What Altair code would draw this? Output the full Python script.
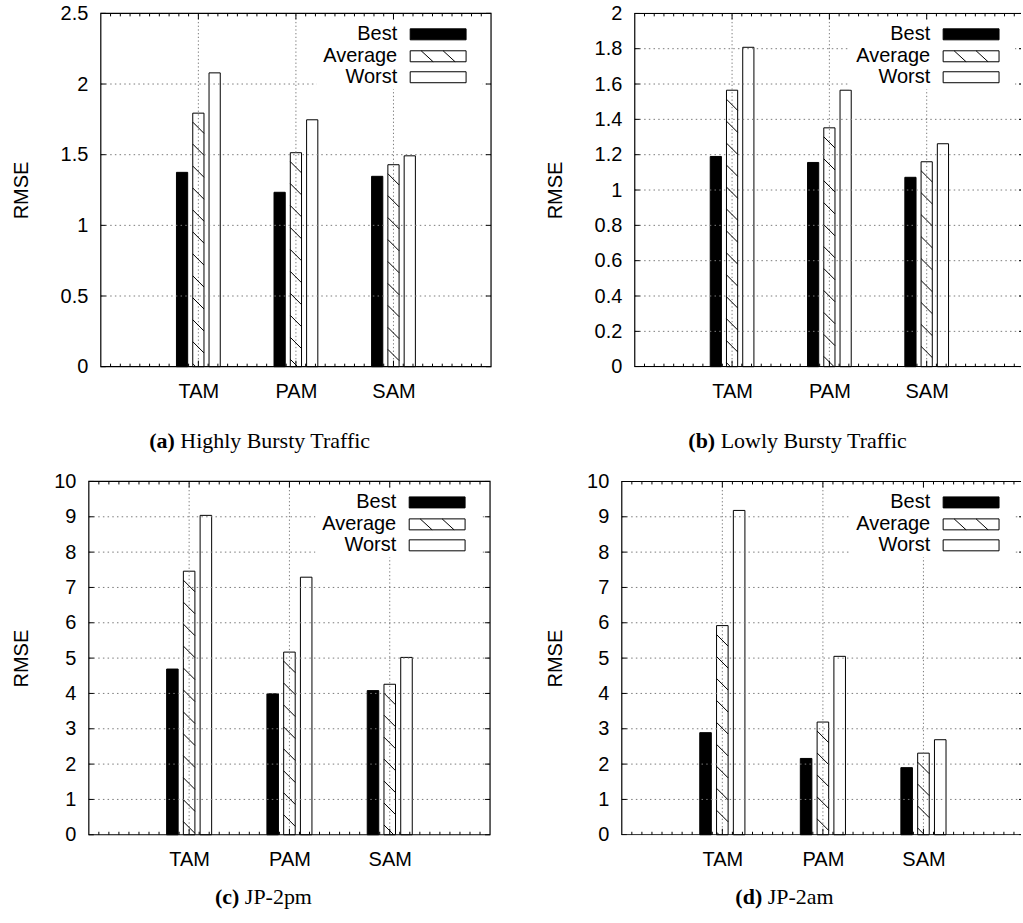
import json
import altair as alt
import pandas as pd
import numpy as np

# ---------------- data ----------------
categories = ["TAM", "PAM", "SAM"]
series = ["Best", "Average", "Worst"]

a_best = [1.375, 1.234, 1.347]
a_average = [1.794, 1.514, 1.429]
a_worst = [2.079, 1.747, 1.492]

b_best = [1.190, 1.156, 1.072]
b_average = [1.565, 1.352, 1.160]
b_worst = [1.808, 1.565, 1.262]

c_best = [4.69, 3.99, 4.08]
c_average = [7.46, 5.17, 4.26]
c_worst = [9.04, 7.29, 5.02]

d_best = [2.89, 2.16, 1.90]
d_average = [5.92, 3.19, 2.31]
d_worst = [9.18, 5.05, 2.69]

a_ticks = [0, 0.5, 1, 1.5, 2, 2.5]
b_ticks = [0, 0.2, 0.4, 0.6, 0.8, 1, 1.2, 1.4, 1.6, 1.8, 2]
cd_ticks = [0, 1, 2, 3, 4, 5, 6, 7, 8, 9, 10]

caption_tags = ["(a)", "(b)", "(c)", "(d)"]
caption_texts = ["Highly Bursty Traffic", "Lowly Bursty Traffic", "JP-2pm", "JP-2am"]

# ---------------- styling ----------------
SANS = "Liberation Sans, Arial, Helvetica, sans-serif"
SERIF = "Liberation Serif, Times New Roman, serif"
FS = 20
CAP_FS = 22
H = 355
YRANGE = [354.5, 0.5]
BAR_W = 0.115
OFFS = {"Best": -0.167, "Average": 0.0, "Worst": 0.167}
GRID = "#7a7a7a"

TIMES_REG = {'(': .333, ')': .333, ' ': .25, 'a': .444, 'b': .5, 'c': .444, 'd': .5,
             'H': .722, 'i': .278, 'g': .5, 'h': .5, 'l': .278, 'y': .5, 'B': .667,
             'u': .5, 'r': .333, 's': .389, 't': .278, 'T': .611, 'f': .333, 'L': .611,
             'o': .5, 'w': .722, 'J': .389, 'P': .556, '-': .333, '2': .5, 'p': .5, 'm': .778}
TIMES_BOLD = {'(': .333, ')': .333, ' ': .25, 'a': .5, 'b': .556, 'c': .444, 'd': .556}


def tw(s, table, fs):
    return sum(table.get(ch, .5) for ch in s) * fs


one = pd.DataFrame({"k": [0]})


def panel(best, avg, worst, ticks, xr, width, title_dx, cap_idx, cap_cx, cap_base, clip):
    ymax = ticks[-1]
    xs = alt.Scale(domain=[-1, 3], range=xr, nice=False, zero=False)
    ys = alt.Scale(domain=[0, ymax], range=YRANGE, nice=False, zero=False)
    ppx = (xr[1] - xr[0]) / 4.0
    ppy = (YRANGE[0] - YRANGE[1]) / ymax

    rows = []
    for i, cat in enumerate(categories):
        for s, vals in zip(series, [best, avg, worst]):
            cx = i + OFFS[s]
            rows.append(dict(cat=cat, series=s, value=vals[i],
                             xl=cx - BAR_W / 2, xr=cx + BAR_W / 2))
    bars_df = pd.DataFrame(rows)

    # hatch segments for Average bars ("\" at 45 degrees, 22 px period)
    drop = BAR_W * ppx / ppy
    step = 22.0 / ppy
    hrows = []
    for i in range(len(categories)):
        v = avg[i]
        x0 = i + OFFS["Average"] - BAR_W / 2
        x1 = i + OFFS["Average"] + BAR_W / 2
        y0 = v - 9.0 / ppy
        while y0 > 0:
            if y0 - drop >= 0:
                hrows.append(dict(x0=x0, x1=x1, y0=y0, y1=y0 - drop))
            else:
                hrows.append(dict(x0=x0, x1=x0 + (x1 - x0) * y0 / drop, y0=y0, y1=0))
            y0 -= step
    hatch_df = pd.DataFrame(hrows)

    label_expr = json.dumps(categories) + "[datum.value]"
    xaxis = alt.Axis(values=[0, 1, 2], labelExpr=label_expr, domain=False, ticks=False,
                     tickSize=0, grid=False, labelPadding=30.5, labelBaseline="alphabetic",
                     labelFont=SANS, labelFontSize=FS, labelColor="black", title=None,
                     labelFlush=False, labelOverlap=False)
    yaxis = alt.Axis(values=ticks, format="~r", domain=False, ticks=False, tickSize=0,
                     grid=False, labelPadding=13, offset=-xr[0], labelFont=SANS,
                     labelFontSize=FS, labelColor="black", labelOverlap=False,
                     labelFlush=False, title="RMSE", titleFont=SANS, titleFontSize=FS,
                     titleFontWeight="normal", titleColor="black", titleX=-title_dx,
                     titleY=H / 2, titleAngle=270, titleAlign="center",
                     titleBaseline="middle")

    X = lambda f: alt.X(f, scale=xs, axis=xaxis)
    Y = lambda f: alt.Y(f, scale=ys, axis=yaxis)
    XD = lambda d: alt.X(datum=d, type="quantitative", scale=xs, axis=xaxis)
    YD = lambda d: alt.Y(datum=d, type="quantitative", scale=ys, axis=yaxis)

    hgrid = alt.Chart(pd.DataFrame({"v": ticks[1:-1]})).mark_rule(
        stroke=GRID, strokeWidth=1, strokeDash=[1.5, 3.2], clip=clip).encode(
        x=XD(-1), x2=alt.X2(datum=3), y=Y("v:Q"))
    vgrid = alt.Chart(pd.DataFrame({"c": [0, 1, 2]})).mark_rule(
        stroke=GRID, strokeWidth=1, strokeDash=[1.3, 2.4], clip=clip).encode(
        x=X("c:Q"), y=YD(0), y2=alt.Y2(datum=ymax))

    bars = alt.Chart(bars_df).mark_rect(stroke="black", strokeWidth=1).encode(
        x=X("xl:Q"), x2="xr:Q",
        y=Y("value:Q"), y2=alt.Y2(datum=0),
        fill=alt.Fill("series:N", scale=alt.Scale(domain=series,
                      range=["black", "transparent", "white"]), legend=None))

    hatch = alt.Chart(hatch_df).mark_rule(stroke="black", strokeWidth=1).encode(
        x=X("x0:Q"), x2="x1:Q", y=Y("y0:Q"), y2="y1:Q")

    # legend (gnuplot style: label left, swatch right, opaque box)
    fr = xr[1]
    ft = YRANGE[1]
    ry = [ft + 21, ft + 43, ft + 64]
    box = alt.Chart(one).mark_rect(fill="white").encode(
        x=alt.value(fr - 175), x2=alt.value(fr - 9), y=alt.value(ft + 7), y2=alt.value(ft + 76))
    leg = [box]
    fills = ["black", "transparent", "white"]
    for s, yy, f in zip(series, ry, fills):
        leg.append(alt.Chart(one).mark_text(text=s, align="right", baseline="middle",
                                            font=SANS, fontSize=FS, color="black").encode(
            x=alt.value(fr - 94), y=alt.value(yy)))
        leg.append(alt.Chart(one).mark_rect(fill=f, stroke="black", strokeWidth=1).encode(
            x=alt.value(fr - 81), x2=alt.value(fr - 25),
            y=alt.value(yy - 5.5), y2=alt.value(yy + 5.5)))
    for dx in (11, 33):
        leg.append(alt.Chart(one).mark_rule(stroke="black", strokeWidth=1).encode(
            x=alt.value(fr - 81 + dx), x2=alt.value(fr - 81 + dx + 12),
            y=alt.value(ry[1] - 5.5), y2=alt.value(ry[1] + 5.5)))

    frame = alt.Chart(one).mark_rect(filled=False, stroke="black", strokeWidth=1.2,
                                     clip=clip).encode(
        x=XD(-1), x2=alt.X2(datum=3), y=YD(0), y2=alt.Y2(datum=ymax))

    tdf = pd.DataFrame({"v": ticks})
    lt = alt.Chart(tdf).mark_rule(stroke="black", x2Offset=5, clip=clip).encode(
        x=XD(-1), x2=alt.X2(datum=-1), y=Y("v:Q"))
    rt = alt.Chart(tdf).mark_rule(stroke="black", x2Offset=-5, clip=clip).encode(
        x=XD(3), x2=alt.X2(datum=3), y=Y("v:Q"))
    mdf = pd.DataFrame({"c": [0, 1, 2]})
    bt = alt.Chart(mdf).mark_rule(stroke="black", y2Offset=-6, clip=clip).encode(
        x=X("c:Q"), y=YD(0), y2=alt.Y2(datum=0))
    tt = alt.Chart(mdf).mark_rule(stroke="black", y2Offset=6, clip=clip).encode(
        x=X("c:Q"), y=YD(ymax), y2=alt.Y2(datum=ymax))
    minor = [round(m, 1) for m in np.arange(-0.9, 2.95, 0.1) if abs(m - round(m)) > 1e-6]
    ndf = pd.DataFrame({"c": minor})
    bm = alt.Chart(ndf).mark_rule(stroke="black", y2Offset=-3, clip=clip).encode(
        x=X("c:Q"), y=YD(0), y2=alt.Y2(datum=0))
    tm = alt.Chart(ndf).mark_rule(stroke="black", y2Offset=3, clip=clip).encode(
        x=X("c:Q"), y=YD(ymax), y2=alt.Y2(datum=ymax))

    tag = caption_tags[cap_idx]
    txt = caption_texts[cap_idx]
    total = tw(tag, TIMES_BOLD, CAP_FS) + tw(" " + txt, TIMES_REG, CAP_FS)
    left = cap_cx - total / 2
    cap1 = alt.Chart(one).mark_text(text=tag, align="left", baseline="alphabetic",
                                    font=SERIF, fontSize=CAP_FS, fontWeight="bold",
                                    color="black").encode(
        x=alt.value(left), y=alt.value(cap_base))
    cap2 = alt.Chart(one).mark_text(text=txt, align="left", baseline="alphabetic",
                                    font=SERIF, fontSize=CAP_FS, color="black").encode(
        x=alt.value(left + tw(tag + " ", TIMES_BOLD, CAP_FS)), y=alt.value(cap_base))

    return alt.layer(bars, hgrid, vgrid, hatch, *leg, frame, lt, rt, bt, tt, bm, tm,
                     cap1, cap2).properties(width=width, height=H)


pa = panel(a_best, a_average, a_worst, a_ticks, [12, 403], 404, 79, 0, 172, 435.5, False)
pb = panel(b_best, b_average, b_worst, b_ticks, [14, 404], 401, 79, 1, 178, 435.5, True)
pc = panel(c_best, c_average, c_worst, cd_ticks, [0, 402], 404, 67, 2, 175, 423.5, False)
pd_ = panel(d_best, d_average, d_worst, cd_ticks, [1, 404], 401, 66, 3, 164, 423.5, True)

chart = alt.concat(pa, pb, pc, pd_, columns=2, spacing={"row": 114, "column": 129},
                   bounds="flush").properties(
    padding={"left": 12, "top": 2, "right": 0, "bottom": 4},
    background="white",
).configure_view(strokeWidth=0)

chart.save("out.html", embed_options={"renderer": "svg", "actions": False})
